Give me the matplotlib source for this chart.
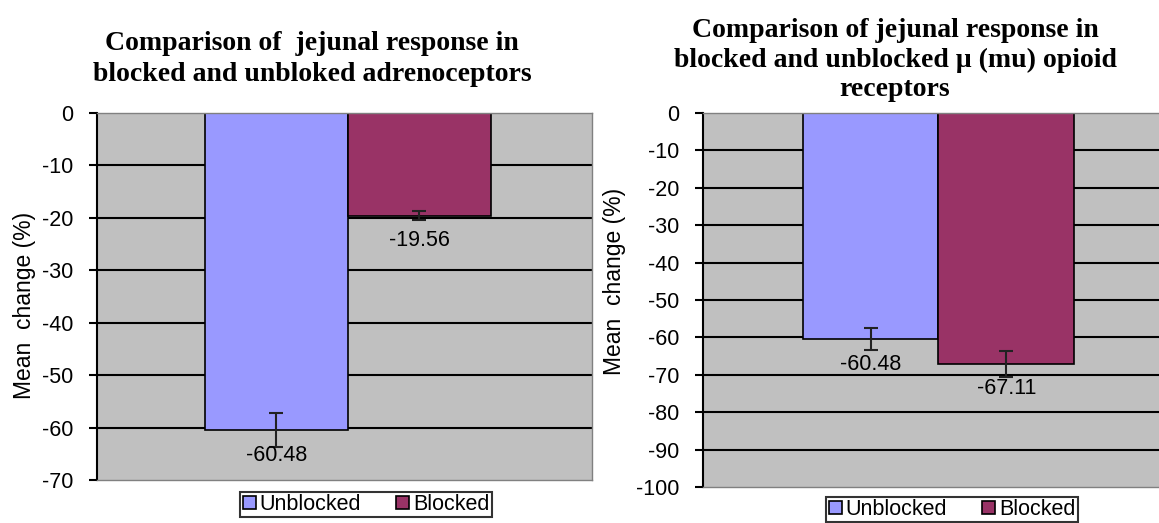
import matplotlib
matplotlib.use("Agg")
import matplotlib.pyplot as plt
from matplotlib.patches import Patch
import numpy as np

# ---- data ----
series = ["Unblocked", "Blocked"]
adr_values = [-60.48, -19.56]
adr_errors = [3.3, 0.8]
mu_values = [-60.48, -67.11]
mu_errors = [3.0, 3.5]
adr_yticks = [0, -10, -20, -30, -40, -50, -60, -70]
mu_yticks = [0, -10, -20, -30, -40, -50, -60, -70, -80, -90, -100]
title_adr = "Comparison of  jejunal response in\nblocked and unbloked adrenoceptors"
title_mu = "Comparison of jejunal response in\nblocked and unblocked \u03bc (mu) opioid\nreceptors"
ylabel = "Mean  change (%)"

colors = ["#9999FF", "#993366"]
W, H = 1159, 523
fig = plt.figure(figsize=(W / 100, H / 100), dpi=100)
sans = ["Liberation Sans", "DejaVu Sans"]
serif = ["Liberation Serif", "DejaVu Serif"]
FS = 15.5


def px_axes(x0, x1, ytop, ybot):
    return fig.add_axes([x0 / W, 1 - ybot / H, (x1 - x0) / W, (ybot - ytop) / H])


def draw(ax, values, errors, yticks, center, width):
    ax.set_facecolor("#C0C0C0")
    ax.set_xlim(0, 1)
    ax.set_ylim(min(yticks), max(yticks))
    ax.set_yticks(yticks)
    ax.set_yticklabels([str(t) for t in yticks], fontfamily=sans, fontsize=FS)
    ax.set_xticks([])
    for t in yticks[1:-1]:
        ax.axhline(t, color="black", lw=1.5, zorder=1)
    xs = [center - width / 2, center + width / 2]
    ax.bar(xs, values, width=width, color=colors, edgecolor="black", lw=1.2, zorder=2)
    ax.errorbar(xs, values, yerr=errors, fmt="none", ecolor="#222222", elinewidth=1.5,
                capsize=5, capthick=1.5, zorder=3)
    for x, v in zip(xs, values):
        ax.annotate(f"{v:.2f}", (x, v), xytext=(0, -18), textcoords="offset points",
                    ha="center", va="center", fontsize=FS, fontfamily=sans, zorder=4)
    for s in ["top", "right", "bottom"]:
        ax.spines[s].set_color("#808080")
        ax.spines[s].set_linewidth(1.0)
    ax.spines["left"].set_color("black")
    ax.spines["left"].set_linewidth(1.5)
    ax.tick_params(axis="y", direction="out", length=5.8, width=1.5, pad=11)


ax1 = px_axes(97, 592, 113, 480)
draw(ax1, adr_values, adr_errors, adr_yticks, 0.507, 0.289)
ax2 = px_axes(703, 1162, 113, 487)
draw(ax2, mu_values, mu_errors, mu_yticks, 0.513, 0.296)

fig.text(25 / W, 1 - 305 / H, ylabel, rotation=90, ha="center", va="center",
         fontsize=16.5, fontfamily=sans)
fig.text(614 / W, 1 - 281 / H, ylabel, rotation=90, ha="center", va="center",
         fontsize=16.5, fontfamily=sans)

fig.text(312 / W, 1 - 59 / H, title_adr, ha="center", va="center", fontsize=20,
         fontweight="bold", fontfamily=serif, linespacing=1.3)
fig.text(895 / W, 1 - 60 / H, title_mu, ha="center", va="center", fontsize=20,
         fontweight="bold", fontfamily=serif, linespacing=1.24)

handles = [Patch(facecolor=c, edgecolor="black", lw=1.2) for c in colors]
for cx, top in [(366, 492), (952, 497)]:
    leg = fig.legend(handles, series, loc="upper center", bbox_to_anchor=(cx / W, 1 - top / H),
                     ncol=2, frameon=True, fancybox=False, edgecolor="black",
                     prop={"family": sans, "size": 15.5}, handlelength=0.6, handleheight=0.6,
                     handletextpad=0.2, columnspacing=1.6, borderpad=0.1, borderaxespad=0)
    leg.get_frame().set_linewidth(1.5)

fig.savefig("out.png", dpi=100)
